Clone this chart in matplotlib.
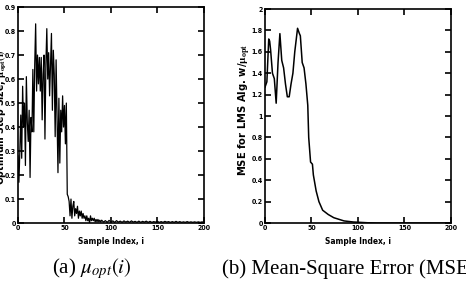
import matplotlib
matplotlib.use("Agg")
import matplotlib.pyplot as plt
from matplotlib import font_manager

# optimum step size per sample (left panel)
mu_idx = list(range(0, 91)) + list(range(92, 201, 2))
mu_opt = [
    0.28, 0.17, 0.30, 0.45, 0.27, 0.57, 0.40, 0.50, 0.24, 0.61,
    0.42, 0.34, 0.47, 0.19, 0.44, 0.38, 0.64, 0.38, 0.66, 0.83,
    0.55, 0.70, 0.58, 0.69, 0.55, 0.69, 0.43, 0.62, 0.70, 0.35,
    0.66, 0.81, 0.60, 0.71, 0.53, 0.66, 0.79, 0.47, 0.72, 0.62,
    0.36, 0.68, 0.45, 0.21, 0.52, 0.25, 0.47, 0.38, 0.53, 0.40,
    0.49, 0.33, 0.50, 0.12, 0.11, 0.09, 0.03, 0.10, 0.02, 0.07,
    0.09, 0.03, 0.06, 0.04, 0.07, 0.02, 0.05, 0.03, 0.05, 0.02,
    0.04, 0.02, 0.03, 0.01, 0.03, 0.01, 0.02, 0.00, 0.03, 0.01,
    0.02, 0.01, 0.02, 0.005, 0.015, 0.005, 0.015, 0.005, 0.012, 0.004,
    0.012,
    0.004, 0.010, 0.003, 0.011, 0.004, 0.009, 0.003, 0.010, 0.004, 0.008,
    0.003, 0.009, 0.004, 0.008, 0.003, 0.009, 0.004, 0.007, 0.003, 0.008,
    0.003, 0.007, 0.004, 0.008, 0.003, 0.007, 0.003, 0.006, 0.004, 0.007,
    0.003, 0.006, 0.003, 0.007, 0.004, 0.006, 0.003, 0.006, 0.003, 0.007,
    0.003, 0.006, 0.003, 0.005, 0.003, 0.006, 0.003, 0.005, 0.003, 0.005,
    0.003, 0.005, 0.003, 0.005, 0.003,
]

# mean-square error of LMS with mu_opt (right panel)
mse_idx = [0, 2, 4, 5, 6, 8, 10, 12, 14, 16, 18, 20, 22, 24, 26, 28, 30,
           32, 35, 37, 38, 40, 42, 44, 46, 47, 49, 51, 52, 55, 58, 62,
           68, 74, 85, 95, 110, 120, 150, 200]
mse = [1.27, 1.32, 1.72, 1.70, 1.62, 1.40, 1.35, 1.12, 1.50, 1.77, 1.52,
       1.45, 1.30, 1.18, 1.18, 1.30, 1.40, 1.60, 1.82, 1.77, 1.75, 1.50,
       1.45, 1.30, 1.10, 0.80, 0.57, 0.55, 0.45, 0.30, 0.20, 0.12,
       0.08, 0.05, 0.02, 0.01, 0.003, 0.0, 0.0, 0.0]

names = {f.name for f in font_manager.fontManager.ttflist}
tick_font = "Liberation Sans Narrow" if "Liberation Sans Narrow" in names else "DejaVu Sans"

plt.rcParams["mathtext.fontset"] = "stix"

fig = plt.figure(figsize=(4.66, 2.82), dpi=100)
ax1 = fig.add_axes([0.0386, 0.209, 0.399, 0.766])
ax2 = fig.add_axes([0.5687, 0.209, 0.399, 0.759])

tick_kw = dict(fontsize=5, fontweight="bold", family=tick_font, fontstretch="condensed")
xlab_kw = dict(fontsize=6, fontweight="bold", family=tick_font, fontstretch="condensed")
ylab_kw = dict(fontsize=8, fontweight="bold", family=tick_font, fontstretch="condensed")

for ax in (ax1, ax2):
    ax.set_xlim(0, 200)
    ax.set_xticks([0, 50, 100, 150, 200])
    ax.tick_params(direction="in", top=True, right=True, length=4,
                   width=1.2, pad=1.5)
    for s in ax.spines.values():
        s.set_linewidth(1.2)
    ax.set_xticklabels(["0", "50", "100", "150", "200"], **tick_kw)
    ax.set_xlabel("Sample Index, i", labelpad=4, **xlab_kw)

ax1.plot(mu_idx, mu_opt, color="black", lw=0.9)
ax1.set_ylim(0, 0.9)
ax1.set_yticks([0, 0.1, 0.2, 0.3, 0.4, 0.5, 0.6, 0.7, 0.8, 0.9])
ax1.set_yticklabels(["0", "0.1", "0.2", "0.3", "0.4", "0.5", "0.6", "0.7", "0.8", "0.9"], **tick_kw)
ax1.set_ylabel(r"Optimum Step Size, $\mathbf{\mu_{opt}(i)}$",
               fontsize=7.5, fontweight="bold", family=tick_font, fontstretch="condensed")
ax1.yaxis.set_label_coords(-0.05, 0.49)

ax2.plot(mse_idx, mse, color="black", lw=1.1)
ax2.set_ylim(0, 2)
ax2.set_yticks([0, 0.2, 0.4, 0.6, 0.8, 1, 1.2, 1.4, 1.6, 1.8, 2])
ax2.set_yticklabels(["0", "0.2", "0.4", "0.6", "0.8", "1", "1.2", "1.4", "1.6", "1.8", "2"], **tick_kw)
ax2.set_ylabel(r"MSE for LMS Alg. w/$\mathbf{\mu_{opt}}$", **ylab_kw)
ax2.yaxis.set_label_coords(-0.065, 0.53)

cap_kw = dict(fontsize=15, family="Liberation Serif", va="baseline")
fig.text(0.197, 0.03, r"(a) $\mu_{opt}(i)$", ha="center", **cap_kw)
fig.text(0.476, 0.03, "(b) Mean-Square Error (MSE)", ha="left", **cap_kw)

fig.savefig("out.png", dpi=100)
